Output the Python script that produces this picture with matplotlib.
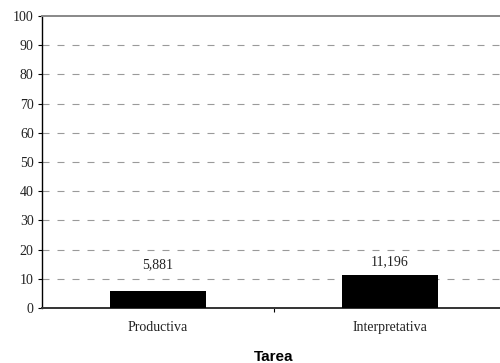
import matplotlib
matplotlib.use("Agg")
import matplotlib.pyplot as plt

categorias = ["Productiva", "Interpretativa"]
valores = [5.881, 11.196]
etiquetas = ["5,881", "11,196"]
# desplazamiento vertical de las etiquetas (en unidades del eje)
desplaz = [8.8, 4.7]

plt.rcParams["font.family"] = ["Liberation Serif", "DejaVu Serif"]

fig = plt.figure(figsize=(5.0, 3.63), dpi=100)
ax = fig.add_axes([0.084, 0.1515, 0.928, 0.8045])

x = list(range(len(categorias)))
ax.bar(x, valores, width=0.41, color="black", zorder=3)

for xi, v, t, d in zip(x, valores, etiquetas, desplaz):
    ax.text(xi, v + d, t, ha="center", va="center", fontsize=10, color="#222222", zorder=4)

ax.set_xlim(-0.5, 1.5)
ax.set_ylim(0, 100)
ax.set_yticks(range(0, 101, 10))
ax.set_xticks([0.5])
ax.set_xticklabels([""])
for xi, c in zip(x, categorias):
    ax.text(xi, -0.068, c, transform=ax.get_xaxis_transform(), ha="center", va="center",
            fontsize=10, color="#222222")

for yv in range(10, 100, 10):
    ax.axhline(yv, color="#9a9a9a", lw=0.8, ls=(0, (6.3, 7.2)), zorder=1)

ax.spines["right"].set_visible(False)
ax.spines["top"].set_color("#888888")
ax.spines["top"].set_linewidth(1.4)
ax.spines["left"].set_color("black")
ax.spines["left"].set_linewidth(1.0)
ax.spines["bottom"].set_color("#333333")
ax.spines["bottom"].set_linewidth(1.4)

ax.tick_params(axis="y", direction="out", length=3, width=0.8, pad=3, labelsize=10, labelcolor="#222222")
ax.tick_params(axis="x", direction="out", length=3, width=0.8, pad=2)

fig.text(0.547, 0.005, "Tarea", ha="center", va="baseline", fontsize=11,
         fontweight="bold", family=["Liberation Sans", "DejaVu Sans"])

fig.savefig("out.png", dpi=100)
plt.close(fig)
